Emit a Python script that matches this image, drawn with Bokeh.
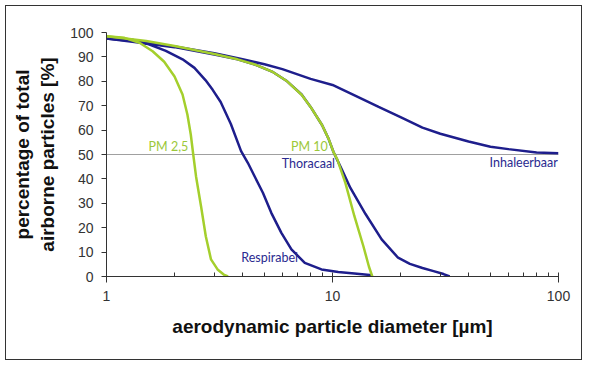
from bokeh.plotting import figure
from bokeh.models import FixedTicker, Span, Label, NumeralTickFormatter
from bokeh.embed import file_html
from bokeh.resources import INLINE

# ---- data ----
inhal_d = [1, 1.3, 1.5, 2, 3, 4, 5, 6, 8, 10, 13, 16, 20, 25, 30, 40, 50, 60, 80, 100]
inhal_p = [97.5, 96.5, 95.6, 94.3, 91.5, 89, 87, 85, 81, 78.5, 73.5, 69.5, 65.3, 61, 58.5, 55.3, 53.2, 52.2, 50.8, 50.5]

thor_d = [1, 1.5, 2, 3, 3.8, 4.5, 5.4, 6.3, 7.3, 8, 9, 9.6, 10.1, 11, 12, 14, 16.5, 19.5, 22, 25, 28, 31, 33]
thor_p = [97.5, 95.5, 94, 91, 89, 87, 84, 80, 74.6, 69.5, 62, 56.5, 51, 43.8, 36.3, 25.6, 15.2, 7.7, 5.2, 3.5, 2.2, 1, 0]

resp_d = [1, 1.3, 1.54, 1.83, 2.17, 2.45, 2.74, 2.95, 3.2, 3.55, 3.94, 4.22, 4.52, 4.92, 5.36, 5.94, 6.58, 7.54, 8.94, 10.6, 12.5, 15]
resp_p = [97.5, 97.0, 95.2, 92.5, 89.0, 85.5, 80.5, 76.5, 71.5, 62.5, 51.4, 46.6, 41.1, 34.3, 26.1, 17.9, 11.1, 5.6, 2.9, 1.8, 1.2, 0.5]

pm10_d = [1, 1.5, 2, 3, 3.8, 4.5, 5.4, 6.3, 7.3, 8, 9, 9.6, 10.1, 10.5, 11.4, 12.5, 13.7, 14.5, 15]
pm10_p = [98.5, 96.5, 94.5, 91.2, 89, 87, 84, 80, 74.5, 69.5, 62, 56.5, 51, 48, 38.4, 24.7, 12.4, 4, 0]

pm25_d = [1, 1.2, 1.4, 1.6, 1.8, 2.0, 2.17, 2.28, 2.36, 2.42, 2.49, 2.62, 2.75, 2.9, 3.1, 3.3, 3.45]
pm25_p = [98.5, 97.8, 95.8, 92.3, 88, 82, 74.6, 66.4, 58.2, 50, 41, 28.8, 16.5, 7, 2.9, 0.8, 0]

x_major = [1, 10, 100]
x_minor = [2, 3, 4, 5, 6, 7, 8, 9, 20, 30, 40, 50, 60, 70, 80, 90]
y_ticks = [0, 10, 20, 30, 40, 50, 60, 70, 80, 90, 100]
ref_level = 50

BLUE = "#1e1e8c"
GREEN = "#a4cf2c"
TXT_BLUE = "#2a2a90"
TXT_GREEN = "#9cc83a"

p = figure(width=577, height=355, x_axis_type="log", x_range=(1, 100), y_range=(0, 100),
           output_backend="svg", toolbar_location=None,
           min_border_left=100, min_border_right=25, min_border_top=26, min_border_bottom=85)
p.styles = {"border": "1.5px solid #333333", "margin": "5px 0px 0px 5px"}
p.grid.visible = False
p.outline_line_color = None
p.background_fill_color = "white"
p.border_fill_color = "white"

# axes
p.xaxis.ticker = FixedTicker(ticks=x_major, minor_ticks=x_minor)
p.xaxis.formatter = NumeralTickFormatter(format="0")
p.xaxis.major_tick_in = 4
p.xaxis.major_tick_out = 6
p.xaxis.minor_tick_in = 4
p.xaxis.minor_tick_out = 0
p.xaxis.major_label_standoff = 8
p.xaxis.axis_label = "aerodynamic particle diameter [µm]"
p.xaxis.axis_label_standoff = 12

p.yaxis.ticker = FixedTicker(ticks=y_ticks)
p.yaxis.major_tick_in = 0
p.yaxis.major_tick_out = 5
p.yaxis.minor_tick_in = 0
p.yaxis.minor_tick_out = 0
p.yaxis.major_label_standoff = 8
p.yaxis.axis_label = "percentage of total\nairborne particles [%]"
p.yaxis.axis_label_standoff = 9

for ax in (p.xaxis, p.yaxis):
    ax.axis_line_color = "#333333"
    ax.major_tick_line_color = "#333333"
    ax.minor_tick_line_color = "#333333"
    ax.major_label_text_font = "Liberation Sans"
    ax.major_label_text_font_size = "14px"
    ax.major_label_text_color = "#333333"
    ax.axis_label_text_font = "Liberation Sans"
    ax.axis_label_text_font_style = "bold"
    ax.axis_label_text_font_size = "19px"
    ax.axis_label_text_color = "#111111"

p.add_layout(Span(location=ref_level, dimension="width", line_color="#a0a0a0",
                  line_width=1.2, level="underlay"))

p.line(inhal_d, inhal_p, line_color=BLUE, line_width=2.5)
p.line(thor_d, thor_p, line_color=BLUE, line_width=2.5)
p.line(resp_d, resp_p, line_color=BLUE, line_width=2.5)
p.line(pm10_d, pm10_p, line_color=GREEN, line_width=2.5)
p.line(pm25_d, pm25_p, line_color=GREEN, line_width=2.5)

labels = [
    ("PM 2,5", 2.3, 53.3, "right", TXT_GREEN),
    ("PM 10", 6.55, 53.3, "left", TXT_GREEN),
    ("Thoracaal", 5.96, 46.2, "left", TXT_BLUE),
    ("Respirabel", 3.95, 7.8, "left", TXT_BLUE),
    ("Inhaleerbaar", 99.3, 46.6, "right", TXT_BLUE),
]
for t, x, y, al, c in labels:
    p.add_layout(Label(x=x, y=y, text=t, text_align=al, text_baseline="middle",
                       text_color=c, text_font="Lato", text_font_size="12.5px"))

open("out.html", "w").write(file_html(p, INLINE))
